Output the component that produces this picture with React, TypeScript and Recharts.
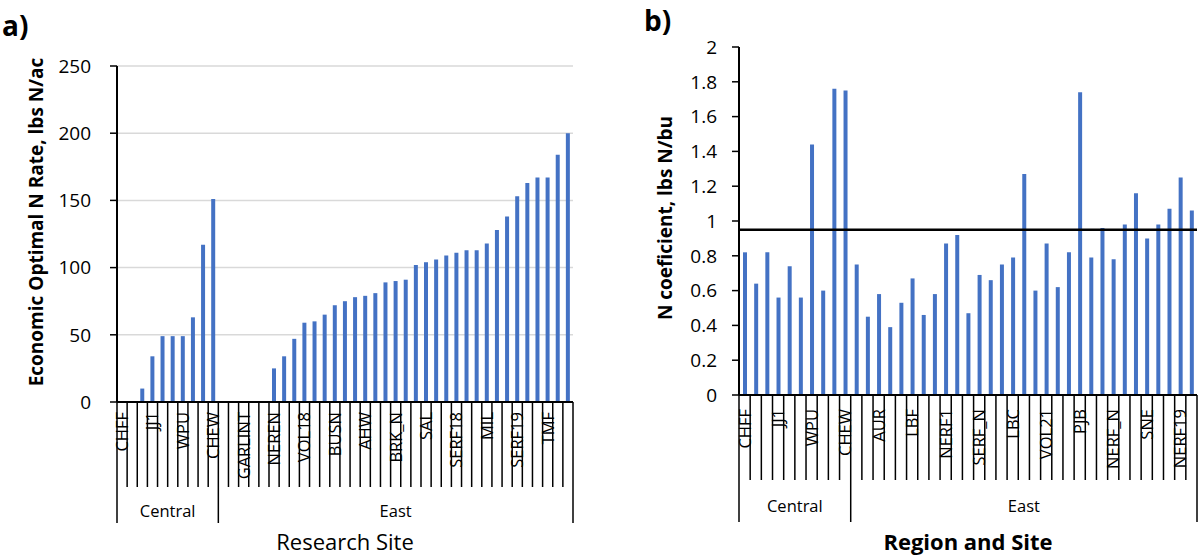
import React from 'react';
import { BarChart, Bar, XAxis, YAxis, CartesianGrid, ReferenceLine } from 'recharts';

const FONT = '"Open Sans", "Noto Sans", sans-serif';
const BLUE = '#4472C4';

// a) economic optimal N rate by research site (sorted within region)
const eonrGroups = ['Central', 'East'];
const eonrGroupSizes = [10, 35];
const eonrSites = [
  'CHFF', '', '', 'JJ1', '', '', 'WPU', '', '', 'CHEW', '', '',
  'GARLINT', '', '', 'NEREN', '', '', 'VOL18', '', '', 'BUSN', '', '',
  'AHW', '', '', 'BRK_N', '', '', 'SAL', '', '', 'SERF18', '', '',
  'MIL', '', '', 'SERF19', '', '', 'TMF', '', '',
];
const eonrValues = [
  null, null, 10, 34, 49, 49, 49, 63, 117, 151,
  null, null, null, null, null, 25, 34, 47, 59, 60, 65, 72, 75, 78, 79, 81, 89, 90, 91,
  102, 104, 106, 109, 111, 113, 113, 118, 128, 138, 153, 163, 167, 167, 184, 200,
];
const eonrTicks = [0, 50, 100, 150, 200, 250];

// b) N coefficient by region and site
const coefGroups = ['Central', 'East'];
const coefGroupSizes = [10, 31];
const coefSites = [
  'CHFF', '', '', 'JJ1', '', '', 'WPU', '', '', 'CHEW', '', '',
  'AUR', '', '', 'LBF', '', '', 'NERF1', '', '', 'SERF_N', '', '',
  'LBC', '', '', 'VOL21', '', '', 'PJB', '', '', 'NERF_N', '', '',
  'SNE', '', '', 'NERF19', '',
];
const coefValues = [
  0.82, 0.64, 0.82, 0.56, 0.74, 0.56, 1.44, 0.6, 1.76, 1.75,
  0.75, 0.45, 0.58, 0.39, 0.53, 0.67, 0.46, 0.58, 0.87, 0.92,
  0.47, 0.69, 0.66, 0.75, 0.79, 1.27, 0.6, 0.87, 0.62, 0.82,
  1.74, 0.79, 0.96, 0.78, 0.98, 1.16, 0.9, 0.98, 1.07, 1.25,
  1.06,
];
const coefTicks = [0, 0.2, 0.4, 0.6, 0.8, 1, 1.2, 1.4, 1.6, 1.8, 2];
const coefThreshold = 0.95;

const expandRegions = (groups: string[], sizes: number[]) =>
  groups.flatMap((g, i) => Array(sizes[i]).fill(g));

const buildRows = (sites: string[], regions: string[], values: (number | null)[]) =>
  values.map((v, i) => ({ n: i, site: sites[i], region: regions[i], value: v }));

const eonrRegions = expandRegions(eonrGroups, eonrGroupSizes);
const coefRegions = expandRegions(coefGroups, coefGroupSizes);
const eonrRows = buildRows(eonrSites, eonrRegions, eonrValues);
const coefRows = buildRows(coefSites, coefRegions, coefValues);

type TickOpts = {
  rows: { site: string; region: string }[];
  lineLen: number;
  groupLen: number;
  labelGap: number;
  groupLabelY: number;
};

function SiteTick(props: any) {
  const { x, y, payload, index, rows, lineLen, groupLen, labelGap, groupLabelY } = props;
  const i = index ?? payload.index;
  const half = payload.offset || 5;
  const left = x - half;
  const row = rows[i];
  const isStart = i === 0 || rows[i - 1].region !== row.region;
  const isLast = i === rows.length - 1;
  let count = 0;
  if (isStart) {
    for (let k = i; k < rows.length && rows[k].region === row.region; k++) count++;
  }
  return (
    <g>
      <line x1={left} y1={y} x2={left} y2={y + (isStart ? groupLen : lineLen)} stroke="#000" strokeWidth={1.5} />
      {isLast && (
        <line x1={x + half} y1={y} x2={x + half} y2={y + groupLen} stroke="#000" strokeWidth={1.5} />
      )}
      {row.site && (
        <text
          transform={`translate(${x},${y + labelGap}) rotate(-90)`}
          textAnchor="end"
          dy="0.36em"
          fontSize={16.5}
          fontFamily={FONT}
          fill="#000"
        >
          {row.site}
        </text>
      )}
      {isStart && (
        <text x={left + count * half} y={y + groupLabelY} dy="0.35em" textAnchor="middle" fontSize={16.5} fontFamily={FONT} fill="#000">
          {row.region}
        </text>
      )}
    </g>
  );
}

const siteTick = (opts: TickOpts) => (p: any) => <SiteTick {...p} {...opts} />;

const axisTitle = (text: string, bold: boolean, dy: number) => (p: any) => {
  const vb = p.viewBox;
  return (
    <text x={vb.x + vb.width / 2} y={vb.y + dy} textAnchor="middle" dy="0.35em" fontSize={22} fontWeight={bold ? 700 : 400} fontFamily={FONT} fill="#000">
      {text}
    </text>
  );
};

const yTitle = (text: string, cx: number, cy: number) => () => (
  <text transform={`translate(${cx},${cy}) rotate(-90)`} textAnchor="middle" dy="0.35em" fontSize={19} fontWeight={700} fontFamily={FONT} fill="#000">
    {text}
  </text>
);

const tickStyle = { fontSize: 19, fontFamily: FONT, fill: '#000' };

export default function App() {
  return (
    <div style={{ position: 'absolute', left: 0, top: 0, width: 1202, height: 558, background: '#fff', fontFamily: FONT }}>
      <div style={{ position: 'absolute', left: 2, top: 11, fontSize: 28, fontWeight: 700, lineHeight: 1 }}>a)</div>
      <div style={{ position: 'absolute', left: 644, top: 6, fontSize: 28, fontWeight: 700, lineHeight: 1 }}>b)</div>

      <div style={{ position: 'absolute', left: 0, top: 0 }}>
        <BarChart width={600} height={558} data={eonrRows} margin={{ top: 66, right: 27, bottom: 0, left: 0 }} barCategoryGap={0}>
          <CartesianGrid vertical={false} stroke="#d9d9d9" strokeWidth={1.5} />
          <XAxis
            dataKey="n"
            type="category"
            interval={0}
            height={156}
            tickLine={false}
            tickSize={0}
            tickMargin={0}
            axisLine={{ stroke: '#000', strokeWidth: 2 }}
            tick={siteTick({ rows: eonrRows, lineLen: 85, groupLen: 121, labelGap: 10, groupLabelY: 109 })}
            label={{ content: axisTitle('Research Site', false, 140) }}
          />
          <YAxis
            domain={[0, 250]}
            ticks={eonrTicks}
            width={117}
            tickSize={7}
            tickMargin={19}
            tick={tickStyle}
            axisLine={{ stroke: '#000', strokeWidth: 2 }}
            tickLine={{ stroke: '#000', strokeWidth: 1.5 }}
            label={{ content: yTitle('Economic Optimal N Rate, lbs N/ac', 36, 222) }}
          />
          <Bar dataKey="value" fill={BLUE} barSize={4} isAnimationActive={false} />
        </BarChart>
      </div>

      <div style={{ position: 'absolute', left: 600, top: 0 }}>
        <BarChart width={602} height={558} data={coefRows} margin={{ top: 47, right: 5, bottom: 0, left: 0 }} barCategoryGap={0}>
          <XAxis
            dataKey="n"
            type="category"
            interval={0}
            height={163}
            tickLine={false}
            tickSize={0}
            tickMargin={0}
            axisLine={{ stroke: '#000', strokeWidth: 2 }}
            tick={siteTick({ rows: coefRows, lineLen: 85, groupLen: 127, labelGap: 14, groupLabelY: 111 })}
            label={{ content: axisTitle('Region and Site', true, 147) }}
          />
          <YAxis
            domain={[0, 2]}
            ticks={coefTicks}
            width={139}
            tickSize={7}
            tickMargin={15}
            tick={tickStyle}
            axisLine={{ stroke: '#000', strokeWidth: 2 }}
            tickLine={{ stroke: '#000', strokeWidth: 1.5 }}
            label={{ content: yTitle('N coeficient, lbs N/bu', 65, 218) }}
          />
          <Bar dataKey="value" fill={BLUE} barSize={4} isAnimationActive={false} />
          <ReferenceLine y={coefThreshold} stroke="#000" strokeWidth={2.5} />
        </BarChart>
      </div>
    </div>
  );
}
